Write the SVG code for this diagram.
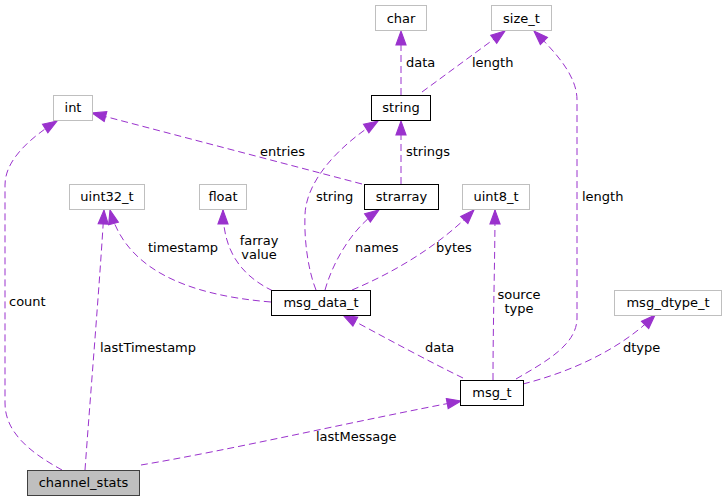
<svg xmlns="http://www.w3.org/2000/svg" width="727" height="501" viewBox="0 0 727 501">
<style>
  .n rect { fill: #ffffff; stroke: #000000; stroke-width: 1; }
  .ext rect { stroke: #bfbfbf; }
  .root rect { fill: #bfbfbf; stroke: #404040; }
  text { font-family: "DejaVu Sans", sans-serif; font-size: 13px; fill: #000000; }
  .n text { text-anchor: middle; }
  .e path { fill: none; stroke: #9a32cd; stroke-width: 1; stroke-dasharray: 7,4; marker-end: url(#ah); }
</style>
<defs>
  <marker id="ah" markerUnits="userSpaceOnUse" markerWidth="14" markerHeight="11" viewBox="0 0 13 9.4" refX="13" refY="4.7" orient="auto" overflow="visible">
    <path d="M0,0 L13,4.7 L0,9.4 z" fill="#9a32cd" stroke="#9a32cd" stroke-width="1" stroke-dasharray="none"/>
  </marker>
</defs>
<rect width="727" height="501" fill="#ffffff"/>
<g id="edges" class="e">
  <path d="M62,470 C35,455 5,435 5,403 L5,185 C5,160 30,138 57,121"/>
  <path d="M85,470 C90,400 100,280 104,210"/>
  <path d="M141,465 C230,450 360,420 461,401"/>
  <path d="M463,378 C430,362 380,335 343,315"/>
  <path d="M493,380 C493,320 495,260 495,210"/>
  <path d="M516,379 C545,362 577,345 577,318 L577,100 C577,75 555,52 534,31"/>
  <path d="M523,384 C570,372 620,350 655,315"/>
  <path d="M271,302 C185,295 125,268 110,210"/>
  <path d="M273,291 C240,275 223,250 223,210"/>
  <path d="M316,290 C308,270 304,240 305,215 C306,180 340,145 378,121"/>
  <path d="M325,290 C332,265 350,230 379,210"/>
  <path d="M352,290 C395,272 440,245 474,210"/>
  <path d="M401,184 L401,121"/>
  <path d="M362,184 L92,113"/>
  <path d="M401,95 L401,31"/>
  <path d="M422,92 L505,31"/>
</g>
<g id="edge-labels">
  <text x="9" y="306">count</text>
  <text x="100" y="352">lastTimestamp</text>
  <text x="316" y="441">lastMessage</text>
  <text x="425" y="352">data</text>
  <text x="519" y="298.5" text-anchor="middle">source</text>
  <text x="519" y="313" text-anchor="middle">type</text>
  <text x="582" y="201">length</text>
  <text x="623" y="352">dtype</text>
  <text x="148" y="252">timestamp</text>
  <text x="259" y="244.5" text-anchor="middle">farray</text>
  <text x="259" y="259" text-anchor="middle">value</text>
  <text x="316" y="201">string</text>
  <text x="355" y="252">names</text>
  <text x="436" y="252">bytes</text>
  <text x="406" y="156">strings</text>
  <text x="260" y="156">entries</text>
  <text x="406" y="66.5">data</text>
  <text x="472" y="66.5">length</text>
</g>
<g id="node-int" class="n ext"><rect x="53.5" y="95.5" width="39" height="25"/><text x="73" y="112">int</text></g>
<g id="node-uint32_t" class="n ext"><rect x="69.5" y="184.5" width="75" height="25"/><text x="107" y="201">uint32_t</text></g>
<g id="node-float" class="n ext"><rect x="199.5" y="184.5" width="47" height="25"/><text x="223" y="201">float</text></g>
<g id="node-char" class="n ext"><rect x="375.5" y="5.5" width="51" height="25"/><text x="401" y="22.5">char</text></g>
<g id="node-string" class="n"><rect x="371.5" y="95.5" width="59" height="25"/><text x="401" y="112">string</text></g>
<g id="node-strarray" class="n"><rect x="364.5" y="184.5" width="74" height="25"/><text x="401.5" y="201">strarray</text></g>
<g id="node-uint8_t" class="n ext"><rect x="462.5" y="184.5" width="67" height="25"/><text x="496" y="201">uint8_t</text></g>
<g id="node-size_t" class="n ext"><rect x="491.5" y="5.5" width="60" height="25"/><text x="521.5" y="22.5">size_t</text></g>
<g id="node-msg_data_t" class="n"><rect x="271.5" y="290.5" width="99" height="25"/><text x="321" y="307">msg_data_t</text></g>
<g id="node-msg_t" class="n"><rect x="460.5" y="380.5" width="63" height="25"/><text x="492" y="397">msg_t</text></g>
<g id="node-msg_dtype_t" class="n ext"><rect x="614.5" y="290.5" width="107" height="25"/><text x="668" y="307">msg_dtype_t</text></g>
<g id="node-channel_stats" class="n root"><rect x="27.5" y="470.5" width="112" height="25"/><text x="83.5" y="487">channel_stats</text></g>
</svg>
